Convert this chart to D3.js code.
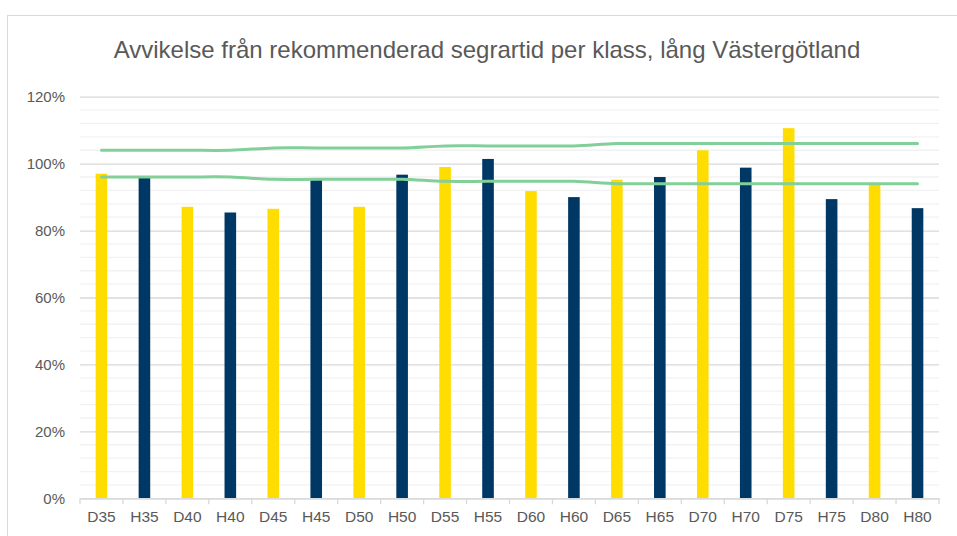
<!DOCTYPE html>
<html>
<head>
<meta charset="utf-8">
<script src="https://cdn.jsdelivr.net/npm/d3@7"></script>
<style>
  body { margin: 0; background: #fff; }
  svg text { font-family: "Liberation Sans", Arial, sans-serif; fill: #595959; }
</style>
</head>
<body>
<div id="chart"></div>
<script>
// Categories (D = damer, H = herrar)
const categories = ['D35','H35','D40','H40','D45','H45','D50','H50','D55','H55',
                    'D60','H60','D65','H65','D70','H70','D75','H75','D80','H80'];

// Bar values, percent of recommended winning time
const values = [97.0, 96.3, 87.1, 85.4, 86.5, 95.3, 87.1, 96.7, 99.0, 101.4,
                91.8, 90.0, 95.2, 96.0, 104.0, 98.8, 110.6, 89.4, 93.7, 86.7];

// Upper and lower limits (green lines)
const upperLimit = [104, 104, 104, 104, 104.7, 104.7, 104.7, 104.7, 105.3, 105.3,
                    105.3, 105.3, 106, 106, 106, 106, 106, 106, 106, 106];
const lowerLimit = [96, 96, 96, 96, 95.3, 95.3, 95.3, 95.3, 94.7, 94.7,
                    94.7, 94.7, 94, 94, 94, 94, 94, 94, 94, 94];

const yTicks = [0, 20, 40, 60, 80, 100, 120];

const title = 'Avvikelse från rekommenderad segrartid per klass, lång Västergötland';

const width = 957, height = 536;
const plot = { left: 80, right: 939, top: 96.7, bottom: 498.3 };

const svg = d3.select('#chart').append('svg')
  .attr('width', width)
  .attr('height', height);

// chart frame
svg.append('rect')
  .attr('x', 7.5).attr('y', 15.5)
  .attr('width', 990).attr('height', 560)
  .attr('fill', '#fff')
  .attr('stroke', '#d9d9d9');

svg.append('text')
  .attr('x', 487).attr('y', 58)
  .attr('text-anchor', 'middle')
  .style('font-size', '24px')
  .text(title);

const x = d3.scaleBand()
  .domain(categories)
  .range([plot.left, plot.right])
  .paddingInner(0.73)
  .paddingOuter(0.365);

const xc = d3.scaleBand().domain(categories).range([plot.left, plot.right]);

const y = d3.scaleLinear().domain([0, 120]).range([plot.bottom, plot.top]);

// minor grid lines every 4%
svg.append('g')
  .selectAll('line')
  .data(d3.range(4, 120, 4).filter(v => v % 20 !== 0))
  .join('line')
  .attr('x1', plot.left).attr('x2', plot.right)
  .attr('y1', d => y(d)).attr('y2', d => y(d))
  .attr('stroke', '#f2f2f2')
  .attr('stroke-width', 1.3);

// major grid lines + y labels
const yAxis = svg.append('g')
  .attr('transform', `translate(${plot.left},0)`)
  .call(d3.axisLeft(y).tickValues(yTicks).tickSize(-(plot.right - plot.left))
    .tickPadding(15).tickFormat(d => d + '%'));
yAxis.select('.domain').remove();
yAxis.selectAll('line').attr('stroke', '#d9d9d9').attr('stroke-width', 1.3);
yAxis.selectAll('text')
  .style('font-size', '15px')
  .style('fill', '#595959')
  .style('font-family', '"Liberation Sans", Arial, sans-serif');

// bars
svg.append('g')
  .selectAll('rect')
  .data(categories.map((c, i) => ({ c, v: values[i] })))
  .join('rect')
  .attr('x', d => x(d.c))
  .attr('width', x.bandwidth())
  .attr('y', d => y(d.v))
  .attr('height', d => y(0) - y(d.v))
  .attr('fill', d => d.c[0] === 'D' ? '#ffdd00' : '#003865');

// x axis
const xAxis = svg.append('g')
  .attr('transform', `translate(0,${plot.bottom})`)
  .call(d3.axisBottom(xc).tickSize(0).tickPadding(13));
xAxis.select('.domain').attr('stroke', '#d9d9d9').attr('stroke-width', 1.5);
xAxis.selectAll('text')
  .style('font-size', '15.5px')
  .style('fill', '#595959')
  .style('font-family', '"Liberation Sans", Arial, sans-serif');

// tick marks between categories
svg.append('g')
  .selectAll('line')
  .data(d3.range(categories.length + 1))
  .join('line')
  .attr('x1', i => plot.left + i * xc.step())
  .attr('x2', i => plot.left + i * xc.step())
  .attr('y1', plot.bottom)
  .attr('y2', plot.bottom + 6)
  .attr('stroke', '#d9d9d9')
  .attr('stroke-width', 1.3);

// limit lines
const line = d3.line()
  .x((d, i) => xc(categories[i]) + xc.bandwidth() / 2)
  .y(d => y(d))
  .curve(d3.curveCatmullRom.alpha(0.5));

[upperLimit, lowerLimit].forEach(series => {
  svg.append('path')
    .attr('d', line(series))
    .attr('fill', 'none')
    .attr('stroke', '#82cf99')
    .attr('stroke-width', 3)
    .attr('stroke-linecap', 'round');
});
</script>
</body>
</html>
